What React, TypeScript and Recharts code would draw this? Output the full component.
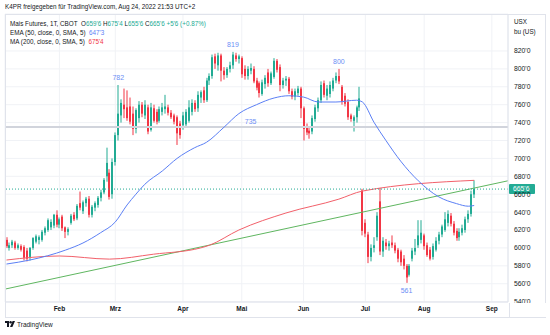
import {
  ComposedChart,
  Bar,
  Line,
  XAxis,
  YAxis,
  CartesianGrid,
  ReferenceLine,
  ReferenceDot,
} from 'recharts';

// trading-day index of the first candle (Jan 5, 2022)
const FIRST_IDX = 2;

// daily candles, Jan 5 .. Aug 24 2022 (one row per trading day)
const opens = [
  609, 600, 603, 606, 600, 602, 601, 597, 590, 600, 607, 609, 609, 617, 620, 623, 625, 637,
  626, 635, 623, 618, 628, 637, 633, 650, 641, 650, 655, 637, 645, 648, 656, 662, 680, 684, 660,
  696, 726, 748, 760, 757, 758, 750, 733, 745, 760, 748, 757, 732, 756, 752, 742, 752, 755, 757, 751, 748, 746, 739,
  737, 738, 742, 752, 762, 756, 768, 776, 765, 787, 792, 814, 804, 815, 798, 793, 800, 804, 815, 811,
  812, 800, 792, 798, 800, 787, 784, 772, 783, 796, 784, 791, 809, 802, 782, 787, 789, 775, 769, 773, 778,
  756, 735, 731, 730, 744, 756, 765, 784, 770, 772, 778, 787, 792, 780, 770, 763, 748, 742, 746, 757, 664,
  628, 615, 590, 600, 612, 652, 596, 606, 602, 606, 603, 598, 596, 588, 580, 570, 588, 596, 603, 609,
  614, 603, 598, 590, 598, 608, 615, 620, 628, 636, 627, 619, 612, 617, 620, 632, 638, 659.75,
];
const highs = [
  612, 606, 609, 608, 605, 604, 603, 600, 601, 612, 615, 614, 620, 624, 633, 632, 638, 642,
  634, 637, 624, 623, 638, 640, 649, 663, 653, 657, 658, 648, 652, 658, 665, 678, 712, 688, 700,
  729, 782, 766, 778, 776, 768, 758, 756, 764, 763, 765, 760, 762, 760, 755, 758, 762, 771, 760, 754, 750, 748, 742,
  752, 755, 765, 766, 765, 775, 776, 780, 790, 795, 816, 817, 818, 817, 802, 802, 808, 819, 818, 816,
  814, 804, 803, 806, 803, 790, 786, 788, 793, 800, 797, 812, 811, 805, 790, 792, 791, 778, 778, 781, 780,
  758, 739, 736, 748, 760, 768, 786, 787, 782, 786, 790, 796, 800, 782, 773, 766, 750, 748, 759, 780, 666,
  632, 618, 604, 612, 640, 667, 612, 610, 608, 614, 606, 600, 598, 592, 582, 582, 600, 610, 631, 631,
  616, 606, 601, 605, 612, 618, 626, 640, 642, 639, 630, 622, 622, 626, 635, 642, 664, 675.5,
];
const lows = [
  600, 597, 600, 598, 598, 596, 586, 585, 586, 598, 605, 604, 607, 614, 618, 620, 622, 623,
  622, 619, 611, 614, 626, 630, 631, 642, 638, 646, 634, 634, 641, 645, 652, 660, 674, 654, 655,
  692, 720, 740, 745, 742, 738, 726, 728, 740, 746, 744, 727, 730, 740, 738, 740, 748, 750, 748, 744, 738, 715, 722,
  732, 735, 740, 748, 752, 752, 762, 762, 763, 782, 789, 800, 798, 786, 788, 790, 796, 800, 808, 806,
  790, 788, 788, 794, 784, 776, 768, 770, 778, 780, 782, 789, 796, 775, 778, 781, 772, 766, 765, 770, 745,
  720, 726, 722, 727, 741, 752, 762, 768, 765, 768, 775, 784, 783, 760, 758, 743, 741, 730, 740, 753, 614,
  612, 583, 585, 595, 608, 592, 590, 598, 597, 600, 594, 584, 580, 576, 561, 568, 585, 592, 600, 605,
  598, 590, 586, 587, 596, 604, 612, 618, 624, 624, 614, 608, 608, 614, 617, 628, 635, 655.75,
];
const closes = [
  602, 603, 607, 600, 603, 598, 589, 588, 600, 611, 613, 612, 618, 622, 631, 629, 637, 626,
  632, 622, 618, 621, 636, 632, 647, 645, 651, 655, 637, 646, 650, 656, 662, 676, 695, 657, 696,
  726, 750, 762, 755, 745, 741, 733, 754, 760, 750, 760, 730, 757, 742, 741, 755, 757, 758, 751, 746, 741, 728, 726,
  748, 752, 757, 762, 755, 771, 774, 765, 787, 792, 813, 806, 815, 798, 793, 800, 804, 816, 811, 814,
  794, 792, 800, 801, 786, 779, 773, 785, 790, 784, 795, 809, 799, 782, 787, 789, 775, 769, 775, 778, 756,
  733, 729, 728, 745, 757, 765, 782, 771, 778, 782, 787, 792, 786, 763, 761, 746, 744, 746, 757, 767, 619,
  616, 590, 600, 603, 636, 596, 608, 602, 605, 603, 597, 588, 584, 580, 567, 580, 597, 600, 614, 617,
  602, 592, 588, 602, 608, 615, 624, 632, 638, 627, 617, 611, 618, 622, 632, 638, 660, 665.75,
];

const emaIdx = [2, 10, 22, 28, 34, 39, 43, 46, 49, 55, 60, 66, 70, 76, 81, 87, 93, 98, 103, 108, 114, 121, 123, 127, 131, 136, 142, 149, 155, 159, 161];
const emaVal = [582, 586.5, 597.5, 605.5, 617, 629, 648, 660, 671, 686, 700, 712, 718, 735, 750, 760, 767.5, 770, 768.5, 763, 763, 765, 763, 740, 720, 697, 675, 657, 649.5, 646.6, 647.4];
const maIdx = [2, 20, 37, 52, 68, 71, 81, 97, 115, 123, 161];
const maVal = [586.5, 591, 587.5, 593, 600, 603, 620, 639, 654.5, 663.5, 675.5];

// drawn objects
const trendFrom = { x: 1.5, y: 554 };
const trendTo = { x: 172.5, y: 675 };
const levelPrice = 735;
const levelLabelIdx = 85;
const pivotIdx = [40, 79, 115, 138];
const pivotVal = [782, 819, 800, 561];

const monthTicks = [20, 39, 62, 82, 103, 124, 144, 167];
const monthNames = ['Feb', 'Mrz', 'Apr', 'Mai', 'Jun', 'Jul', 'Aug', 'Sep'];
const priceTicks = [540, 560, 580, 600, 620, 640, 660, 680, 700, 720, 740, 760, 780, 800, 820];

const UP = '#22ab94';
const DOWN = '#f23645';
const EMA_COLOR = '#5b7ff5';
const MA_COLOR = '#f2606a';
const PIVOT_COLOR = '#6c8ef5';
const TEXT = '#131722';
const BORDER = '#e0e3eb';
const FONT = '"Liberation Sans", Arial, sans-serif';

const emaMap = new Map(emaIdx.map((k, i) => [k, emaVal[i]]));
const maMap = new Map(maIdx.map((k, i) => [k, maVal[i]]));

const rows = opens.map((o, i) => {
  const idx = FIRST_IDX + i;
  return {
    idx,
    open: o,
    high: highs[i],
    low: lows[i],
    close: closes[i],
    range: [lows[i], highs[i]],
    ema: emaMap.get(idx),
    ma: maMap.get(idx),
  };
});

// corn is quoted in eighths: 665.75 -> 665'6
const fmt = (p: number) => {
  const whole = Math.floor(p);
  return `${whole}'${Math.round((p - whole) * 8)}`;
};

function Candle(props: any) {
  const { x, y, width, height, payload } = props;
  if (!payload || height == null) return null;
  const { open, close, high, low } = payload;
  const top = Math.min(y, y + height);
  const h = Math.abs(height);
  const k = h / Math.max(high - low, 1e-6);
  const color = close >= open ? UP : DOWN;
  const wx = Math.floor(x + width / 2);
  const bodyTop = top + (high - Math.max(open, close)) * k;
  const bodyH = Math.max(1, Math.abs(close - open) * k);
  return (
    <g>
      <rect x={wx + 0.5} y={top} width={1} height={h} fill={color} />
      <rect x={wx} y={bodyTop} width={2} height={bodyH} fill={color} />
    </g>
  );
}

function PriceTag(props: any) {
  const vb = props.viewBox;
  if (!vb) return null;
  const x = vb.x + vb.width + 1;
  return (
    <g>
      <rect x={x} y={vb.y - 5} width={26} height={10} fill={UP} rx={1} />
      <text x={x + 4} y={vb.y + 2.3} fill="#fff" fontSize={6.8} fontFamily={FONT}>
        {props.value}
      </text>
    </g>
  );
}

export default function App() {
  const last = rows[rows.length - 1];
  const prev = rows[rows.length - 2];
  const chg = last.close - prev.close;
  const pct = (chg / prev.close) * 100;

  return (
    <div
      style={{
        position: 'absolute',
        left: 0,
        top: 0,
        width: 550,
        height: 335,
        background: '#fff',
        fontFamily: FONT,
        color: TEXT,
        overflow: 'hidden',
      }}
    >
      <ComposedChart
        width={550}
        height={335}
        data={rows}
        margin={{ top: 14, right: 4, bottom: 17, left: 5 }}
      >
        <CartesianGrid stroke="#f0f2f6" />
        <XAxis
          type="number"
          dataKey="idx"
          domain={[1.5, 172.5]}
          allowDataOverflow
          ticks={monthTicks}
          interval={0}
          tickFormatter={(v: number) => monthNames[monthTicks.indexOf(v)] ?? ''}
          height={16}
          axisLine={{ stroke: BORDER }}
          tickLine={false}
          tickSize={0}
          tickMargin={4}
          tick={{ fontSize: 6.5, fill: TEXT, fontWeight: 700, fontFamily: FONT }}
        />
        <YAxis
          orientation="right"
          type="number"
          domain={[539.6, 861.3]}
          allowDataOverflow
          ticks={priceTicks}
          interval={0}
          tickFormatter={(v: number) => `${v}'0`}
          width={38}
          axisLine={{ stroke: BORDER }}
          tickLine={false}
          tickSize={0}
          tickMargin={6}
          tick={{ fontSize: 6.8, fill: TEXT, fontFamily: FONT }}
        />
        <ReferenceLine y={levelPrice} stroke="#d1d4dc" strokeWidth={2} />
        <ReferenceLine segment={[trendFrom, trendTo]} stroke="#5fb660" strokeWidth={1} />
        <Line
          dataKey="ma"
          type="monotone"
          stroke={MA_COLOR}
          strokeWidth={1}
          dot={false}
          connectNulls
          isAnimationActive={false}
        />
        <Line
          dataKey="ema"
          type="monotone"
          stroke={EMA_COLOR}
          strokeWidth={1}
          dot={false}
          connectNulls
          isAnimationActive={false}
        />
        <Bar
          dataKey="range"
          barSize={2}
          isAnimationActive={false}
          shape={(p: any) => <Candle {...p} />}
        />
        <ReferenceDot
          x={levelLabelIdx}
          y={levelPrice}
          r={0}
          fill="none"
          stroke="none"
          label={{ value: String(levelPrice), position: 'top', offset: 3, fill: PIVOT_COLOR, fontSize: 7 }}
        />
        {pivotIdx.map((k, i) => (
          <ReferenceDot
            key={k}
            x={k}
            y={pivotVal[i]}
            r={0}
            fill="none"
            stroke="none"
            label={{
              value: String(pivotVal[i]),
              position: pivotVal[i] < 600 ? 'bottom' : 'top',
              offset: 5,
              fill: PIVOT_COLOR,
              fontSize: 7,
            }}
          />
        ))}
        <ReferenceLine
          y={last.close}
          stroke={UP}
          strokeDasharray="1 2"
          label={(p: any) => <PriceTag {...p} value={fmt(last.close)} />}
        />
      </ComposedChart>

      {/* frame around the pane and axes */}
      <div
        style={{
          position: 'absolute',
          left: 5,
          top: 14,
          width: 541,
          height: 304,
          border: `1px solid ${BORDER}`,
          boxSizing: 'border-box',
          pointerEvents: 'none',
        }}
      />
      <div
        style={{
          position: 'absolute',
          left: 509,
          top: 303,
          width: 36,
          height: 14,
          background: '#fff',
          borderLeft: `1px solid ${BORDER}`,
        }}
      />

      <div style={{ position: 'absolute', left: 5, top: 3, fontSize: 6.3, whiteSpace: 'nowrap' }}>
        K4PR freigegeben für TradingView.com, Aug 24, 2022 21:53 UTC+2
      </div>

      <div style={{ position: 'absolute', left: 10, top: 19, fontSize: 6.3, lineHeight: '9px', whiteSpace: 'nowrap' }}>
        <div>
          Mais Futures, 1T, CBOT&nbsp; O<span style={{ color: UP }}>{fmt(last.open)}</span> H
          <span style={{ color: UP }}>{fmt(last.high)}</span> L<span style={{ color: UP }}>{fmt(last.low)}</span> C
          <span style={{ color: UP }}>{fmt(last.close)}</span>{' '}
          <span style={{ color: UP }}>
            +{fmt(chg)} (+{pct.toFixed(2)}%)
          </span>
        </div>
        <div>
          EMA (50, close, 0, SMA, 5)&nbsp; <span style={{ color: EMA_COLOR }}>{fmt(emaVal[emaVal.length - 1])}</span>
        </div>
        <div>
          MA (200, close, 0, SMA, 5)&nbsp; <span style={{ color: DOWN }}>{fmt(maVal[maVal.length - 1])}</span>
        </div>
      </div>

      <div style={{ position: 'absolute', left: 514, top: 17, fontSize: 6.3, lineHeight: '10px' }}>
        <div>USX</div>
        <div>bu (US)</div>
      </div>

      <div style={{ position: 'absolute', left: 5, top: 321, display: 'flex', alignItems: 'center', gap: 2 }}>
        <svg width={10} height={7} viewBox="0 0 10 7">
          <rect x={0} y={0} width={4} height={2} fill={TEXT} />
          <rect x={2} y={0} width={2} height={6} fill={TEXT} />
          <circle cx={5.6} cy={1.2} r={1.2} fill={TEXT} />
          <polygon points="5,6 7.6,0 10,0 7.4,6" fill={TEXT} />
        </svg>
        <span style={{ fontSize: 6.5 }}>TradingView</span>
      </div>
    </div>
  );
}
